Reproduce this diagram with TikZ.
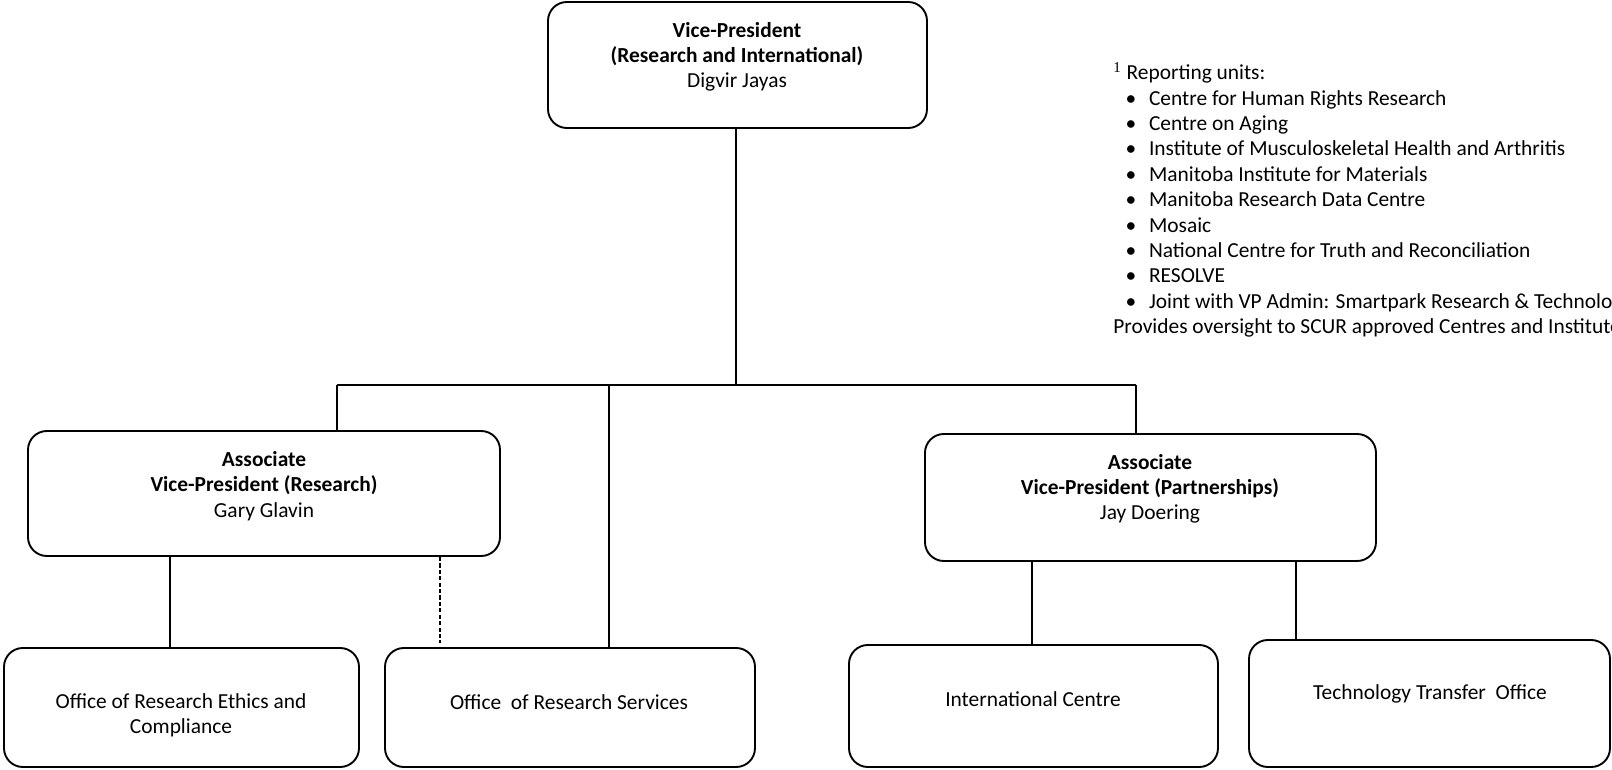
\documentclass[tikz,border=0pt]{standalone}
\usepackage{fontspec}
\setmainfont{Carlito}
\newfontfamily\notenum{Liberation Serif}
\usetikzlibrary{fit}
\tikzset{unit/.style = {draw, rounded corners=10pt, line width=1pt, inner sep=0pt},
         unittext/.style = {align=center, font=\fontsize{11.35}{13.4}\selectfont},
         notes/.style = {align=left, inner sep=0pt, font=\fontsize{11.35}{13.45}\selectfont},
         link/.style = {line width=1pt}}
\newcommand{\unitbullet}{\hspace*{6.5pt}\makebox[12.4pt][l]{\textbullet}}

\begin{document}
\begin{tikzpicture}[x=0.53pt, y=-0.53pt]
      \useasboundingbox (0, 0) rectangle (1612, 770);
      \clip (0, 0) rectangle (1612, 770);

      \node [unit, fit={(548, 2) (927, 128)}] (vp) {};
      \node [unit, fit={(28, 431) (500, 556)}] (avpr) {};
      \node [unit, fit={(925, 434) (1376, 561)}] (avpp) {};
      \node [unit, fit={(4, 648) (359, 767)}] (ore) {};
      \node [unit, fit={(385, 648) (755, 767)}] (ors) {};
      \node [unit, fit={(849, 645) (1218, 767)}] (ic) {};
      \node [unit, fit={(1249, 640) (1610, 767)}] (tto) {};

      \node [unittext] (vptxt) at (737, 57) {\textbf{Vice-President}\\\textbf{(Research and International)}\\Digvir Jayas};
      \node [unittext] (avprtxt) at (264, 486) {\textbf{Associate}\\\textbf{Vice-President (Research)}\\Gary Glavin};
      \node [unittext] (avpptxt) at (1150, 489) {\textbf{Associate}\\\textbf{Vice-President (Partnerships)}\\Jay Doering};
      \node [unittext] (oretxt) at (181, 715) {Office of Research Ethics and\\Compliance};
      \node [unittext] (orstxt) at (569, 702) {Office~ of Research Services};
      \node [unittext] (ictxt) at (1033, 699) {International Centre};
      \node [unittext] (ttotxt) at (1430, 694) {Technology Transfer~ Office};

      \coordinate (busL) at (337, 385);
      \coordinate (busC) at (736, 385);
      \coordinate (busM) at (609, 385);
      \coordinate (busR) at (1136, 385);
      \coordinate (oreX) at (170, 0);
      \coordinate (dashX) at (440, 0);
      \coordinate (icX) at (1032, 0);
      \coordinate (ttoX) at (1296, 0);

      \draw [link] (vp.south -| busC) -- (busC);
      \draw [link] (busL) -- (busR);
      \draw [link] (busL) -- (busL |- avpr.north);
      \draw [link] (busM) -- (busM |- ors.north);
      \draw [link] (busR) -- (busR |- avpp.north);
      \draw [link] (avpr.south -| oreX) -- (ore.north -| oreX);
      \draw [link, dash pattern=on 2.2pt off 1.2pt] (avpr.south -| dashX) -- ([yshift=2pt]ors.north -| dashX);
      \draw [link] (avpp.south -| icX) -- (ic.north -| icX);
      \draw [link] (avpp.south -| ttoX) -- (tto.north -| ttoX);

      \node [notes, anchor=north west] (units) at (1113, 62) {\textsuperscript{\notenum 1} Reporting units:\\
        \unitbullet Centre for Human Rights Research\\
        \unitbullet Centre on Aging\\
        \unitbullet Institute of Musculoskeletal Health and Arthritis\\
        \unitbullet Manitoba Institute for Materials\\
        \unitbullet Manitoba Research Data Centre\\
        \unitbullet Mosaic\\
        \unitbullet National Centre for Truth and Reconciliation\\
        \unitbullet RESOLVE\\
        \unitbullet Joint with VP Admin: Smartpark Research \& Technology Park\\
        Provides oversight to SCUR approved Centres and Institutes};
    \end{tikzpicture}
\end{document}
